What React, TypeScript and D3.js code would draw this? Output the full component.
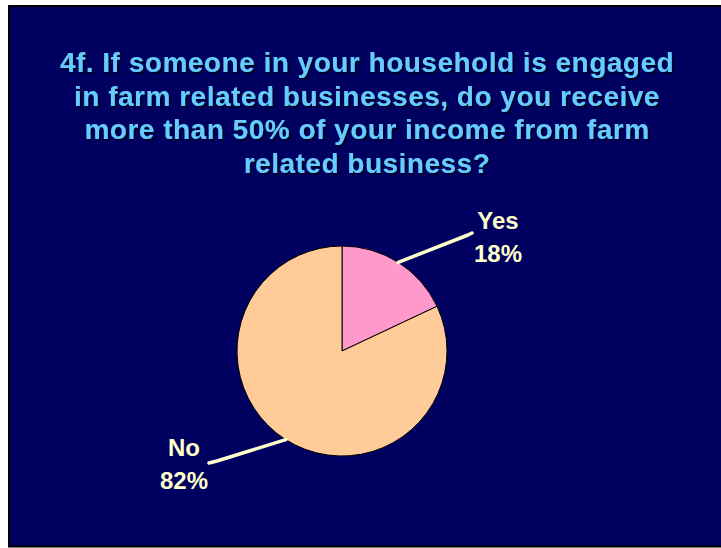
import React from "react";
import * as d3 from "d3";

const categories = ["Yes", "No"];
const values = [18, 82];
const valueLabels = ["18%", "82%"];
const colors = ["#ff99cc", "#ffcc99"];
const titleLines = [
  "4f. If someone in your household is engaged",
  "in farm related businesses, do you receive",
  "more than 50% of your income from farm",
  "related business?",
];

const W = 721;
const H = 548;
const cx = 342;
const cy = 351;
const R = 105;

// label layout (anchor positions for text and leader line end)
const labelLayout = [
  { tx: 498, ty: 229, lineEnd: [468, 235], hook: [472, 233] },
  { tx: 184, ty: 456, lineEnd: [217, 461], hook: [209, 463] },
];

export default function App() {
  const pie = d3
    .pie<number>()
    .sort(null)
    .value((d) => d)
    .startAngle(0)
    .endAngle(2 * Math.PI);
  const arcs = pie(values);
  const arc = d3.arc<d3.PieArcDatum<number>>().innerRadius(0).outerRadius(R);
  const edgeArc = d3.arc<d3.PieArcDatum<number>>().innerRadius(R).outerRadius(R);

  const titleY0 = 72;
  const titleDy = 33.5;

  return (
    <svg
      width={W}
      height={H}
      style={{ position: "absolute", left: 0, top: 0, background: "#ffffff" }}
    >
      <defs>
        <filter id="tshadow" x="-5%" y="-20%" width="110%" height="150%">
          <feDropShadow dx={2} dy={2} stdDeviation={0.3} floodColor="#00002a" floodOpacity={1} />
        </filter>
      </defs>
      <rect x={9} y={6} width={W} height={H - 7.5} fill="#000060" stroke="#000000" strokeWidth={2} />
      <g
        fontFamily="'Liberation Sans', Arial, sans-serif"
        fontWeight="bold"
        fontSize={28}
        textAnchor="middle"
        letterSpacing={0.5}
        filter="url(#tshadow)"
      >
        {titleLines.map((t, i) => (
          <text key={"t" + i} x={367} y={titleY0 + i * titleDy} fill="#66ccff">
            {t}
          </text>
        ))}
      </g>
      <g transform={`translate(${cx},${cy})`}>
        {arcs.map((a, i) => (
          <path key={i} d={arc(a) || ""} fill={colors[i]} stroke="#000000" strokeWidth={1} />
        ))}
      </g>
      {arcs.map((a, i) => {
        const [ex, ey] = edgeArc.centroid(a);
        const L = labelLayout[i];
        const pts = [
          [cx + ex, cy + ey],
          L.lineEnd,
          L.hook,
        ];
        return (
          <g key={"l" + i}>
            <path
              d={d3.line()(pts as [number, number][]) || ""}
              fill="none"
              stroke="#ffffcc"
              strokeWidth={3.5}
              strokeLinecap="round"
              strokeLinejoin="round"
            />
            <g fontFamily="'Liberation Sans', Arial, sans-serif" fontWeight="bold" fontSize={24} fill="#ffffcc" textAnchor="middle">
              <text x={L.tx} y={L.ty}>{categories[i]}</text>
              <text x={L.tx} y={L.ty + 33}>{valueLabels[i]}</text>
            </g>
          </g>
        );
      })}
    </svg>
  );
}
